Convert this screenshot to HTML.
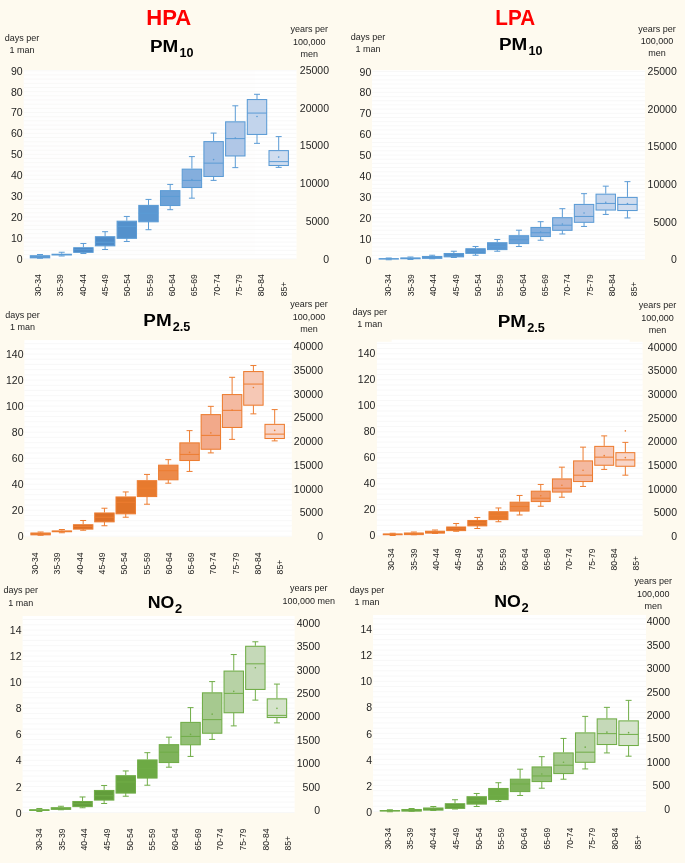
<!DOCTYPE html>
<html><head><meta charset="utf-8"><title>HPA / LPA</title>
<style>html,body{margin:0;padding:0;background:#FEFAEF;}body{width:685px;height:863px;overflow:hidden;}svg{display:block;will-change:transform;opacity:0.999;}text{font-family:"Liberation Sans",sans-serif;}</style>
</head><body>
<svg width="685" height="863" viewBox="0 0 685 863">
<rect x="0" y="0" width="685" height="863" fill="#FEFAEF"/>
<g>
<rect x="23.7" y="70" width="272.8" height="188.9" fill="#FFFFFF"/>
<path d="M23.7 258.75H296.5M23.7 254.57H296.5M23.7 250.39H296.5M23.7 246.22H296.5M23.7 242.04H296.5M23.7 237.86H296.5M23.7 233.68H296.5M23.7 229.51H296.5M23.7 225.33H296.5M23.7 221.15H296.5M23.7 216.97H296.5M23.7 212.79H296.5M23.7 208.62H296.5M23.7 204.44H296.5M23.7 200.26H296.5M23.7 196.08H296.5M23.7 191.91H296.5M23.7 187.73H296.5M23.7 183.55H296.5M23.7 179.37H296.5M23.7 175.19H296.5M23.7 171.02H296.5M23.7 166.84H296.5M23.7 162.66H296.5M23.7 158.48H296.5M23.7 154.31H296.5M23.7 150.13H296.5M23.7 145.95H296.5M23.7 141.77H296.5M23.7 137.59H296.5M23.7 133.42H296.5M23.7 129.24H296.5M23.7 125.06H296.5M23.7 120.88H296.5M23.7 116.71H296.5M23.7 112.53H296.5M23.7 108.35H296.5M23.7 104.17H296.5M23.7 99.99H296.5M23.7 95.82H296.5M23.7 91.64H296.5M23.7 87.46H296.5M23.7 83.28H296.5M23.7 79.11H296.5M23.7 74.93H296.5M23.7 70.75H296.5" stroke="#F7F7F7" stroke-width="0.9" fill="none"/>
<text x="22.6" y="262.51" font-size="10.5" text-anchor="end" fill="#1E1E1E">0</text>
<text x="22.6" y="241.63" font-size="10.5" text-anchor="end" fill="#1E1E1E">10</text>
<text x="22.6" y="220.76" font-size="10.5" text-anchor="end" fill="#1E1E1E">20</text>
<text x="22.6" y="199.88" font-size="10.5" text-anchor="end" fill="#1E1E1E">30</text>
<text x="22.6" y="179.01" font-size="10.5" text-anchor="end" fill="#1E1E1E">40</text>
<text x="22.6" y="158.13" font-size="10.5" text-anchor="end" fill="#1E1E1E">50</text>
<text x="22.6" y="137.26" font-size="10.5" text-anchor="end" fill="#1E1E1E">60</text>
<text x="22.6" y="116.38" font-size="10.5" text-anchor="end" fill="#1E1E1E">70</text>
<text x="22.6" y="95.51" font-size="10.5" text-anchor="end" fill="#1E1E1E">80</text>
<text x="22.6" y="74.63" font-size="10.5" text-anchor="end" fill="#1E1E1E">90</text>
<text x="329" y="262.51" font-size="10.5" text-anchor="end" fill="#1E1E1E">0</text>
<text x="329" y="224.8" font-size="10.5" text-anchor="end" fill="#1E1E1E">5000</text>
<text x="329" y="187.09" font-size="10.5" text-anchor="end" fill="#1E1E1E">10000</text>
<text x="329" y="149.38" font-size="10.5" text-anchor="end" fill="#1E1E1E">15000</text>
<text x="329" y="111.67" font-size="10.5" text-anchor="end" fill="#1E1E1E">20000</text>
<text x="329" y="73.96" font-size="10.5" text-anchor="end" fill="#1E1E1E">25000</text>
<path d="M40 254.49V255.24M40 257.75V258.25M37 254.49H43M37 258.25H43" stroke="#5B9BD5" stroke-width="1" fill="none"/>
<rect x="30.3" y="255.74" width="19.4" height="2.1" fill="#4A87C6" stroke="#5B9BD5" stroke-width="1.05"/>
<path d="M30.3 256.5H49.7" stroke="#5B9BD5" stroke-width="1" fill="none"/>
<path d="M61.7 252.24V253.74M61.7 255.49V255.99M58.7 252.24H64.7M58.7 255.99H64.7" stroke="#5B9BD5" stroke-width="1" fill="none"/>
<rect x="51.5" y="253.74" width="20.4" height="1.75" fill="#5B9BD5"/>
<path d="M52 254.49H71.4" stroke="#5B9BD5" stroke-width="1" fill="none"/>
<path d="M83.4 243.48V247.23M83.4 252.24V253.49M80.4 243.48H86.4M80.4 253.49H86.4" stroke="#5B9BD5" stroke-width="1" fill="none"/>
<rect x="73.7" y="247.73" width="19.4" height="4.61" fill="#4A87C6" stroke="#5B9BD5" stroke-width="1.05"/>
<path d="M73.7 249.74H93.1" stroke="#5B9BD5" stroke-width="1" fill="none"/>
<path d="M105.1 231.71V236.22M105.1 245.73V249.49M102.1 231.71H108.1M102.1 249.49H108.1" stroke="#5B9BD5" stroke-width="1" fill="none"/>
<rect x="95.4" y="236.72" width="19.4" height="9.11" fill="#4E8BC8" stroke="#5B9BD5" stroke-width="1.05"/>
<path d="M95.4 242.23H114.8" stroke="#5B9BD5" stroke-width="1" fill="none"/>
<path d="M126.8 216.45V220.7M126.8 238.22V241.48M123.8 216.45H129.8M123.8 241.48H129.8" stroke="#5B9BD5" stroke-width="1" fill="none"/>
<rect x="117.1" y="221.2" width="19.4" height="17.12" fill="#5491CC" stroke="#5B9BD5" stroke-width="1.05"/>
<path d="M117.1 226.46H136.5" stroke="#5B9BD5" stroke-width="1" fill="none"/>
<path d="M148.5 199.42V204.93M148.5 221.7V229.71M145.5 199.42H151.5M145.5 229.71H151.5" stroke="#5B9BD5" stroke-width="1" fill="none"/>
<rect x="138.8" y="205.43" width="19.4" height="16.37" fill="#5B97D1" stroke="#5B9BD5" stroke-width="1.05"/>
<path d="M138.8 213.19H158.2" stroke="#5B9BD5" stroke-width="1" fill="none"/>
<path d="M170.2 184.41V190.16M170.2 205.43V209.69M167.2 184.41H173.2M167.2 209.69H173.2" stroke="#5B9BD5" stroke-width="1" fill="none"/>
<rect x="160.5" y="190.66" width="19.4" height="14.87" fill="#6CA1D7" stroke="#5B9BD5" stroke-width="1.05"/>
<path d="M160.5 196.42H179.9" stroke="#5B9BD5" stroke-width="1" fill="none"/>
<path d="M191.9 156.62V168.64M191.9 187.41V198.17M188.9 156.62H194.9M188.9 198.17H194.9" stroke="#5B9BD5" stroke-width="1" fill="none"/>
<rect x="182.2" y="169.14" width="19.4" height="18.37" fill="#84AEDD" stroke="#5B9BD5" stroke-width="1.05"/>
<path d="M182.2 180.4H201.6" stroke="#5B9BD5" stroke-width="1" fill="none"/>
<circle cx="191.9" cy="179.65" r="0.8" fill="#5B9BD5"/>
<path d="M213.6 133.09V141.1M213.6 176.4V180.4M210.6 133.09H216.6M210.6 180.4H216.6" stroke="#5B9BD5" stroke-width="1" fill="none"/>
<rect x="203.9" y="141.6" width="19.4" height="34.89" fill="#9DBCE3" stroke="#5B9BD5" stroke-width="1.05"/>
<path d="M203.9 163.13H223.3" stroke="#5B9BD5" stroke-width="1" fill="none"/>
<circle cx="213.6" cy="159.62" r="0.8" fill="#5B9BD5"/>
<path d="M235.3 105.81V121.33M235.3 155.87V167.63M232.3 105.81H238.3M232.3 167.63H238.3" stroke="#5B9BD5" stroke-width="1" fill="none"/>
<rect x="225.6" y="121.83" width="19.4" height="34.14" fill="#B0C7E7" stroke="#5B9BD5" stroke-width="1.05"/>
<path d="M225.6 138.6H245" stroke="#5B9BD5" stroke-width="1" fill="none"/>
<circle cx="235.3" cy="138.1" r="0.8" fill="#5B9BD5"/>
<path d="M257 94.29V99.05M257 134.34V143.35M254 94.29H260M254 143.35H260" stroke="#5B9BD5" stroke-width="1" fill="none"/>
<rect x="247.3" y="99.55" width="19.4" height="34.89" fill="#C2D4EC" stroke="#5B9BD5" stroke-width="1.05"/>
<path d="M247.3 113.07H266.7" stroke="#5B9BD5" stroke-width="1" fill="none"/>
<circle cx="257" cy="116.57" r="0.8" fill="#5B9BD5"/>
<path d="M278.7 136.6V150.11M278.7 165.38V167.38M275.7 136.6H281.7M275.7 167.38H281.7" stroke="#5B9BD5" stroke-width="1" fill="none"/>
<rect x="269" y="150.61" width="19.4" height="14.87" fill="#D0DDEF" stroke="#5B9BD5" stroke-width="1.05"/>
<path d="M269 161.63H288.4" stroke="#5B9BD5" stroke-width="1" fill="none"/>
<circle cx="278.7" cy="157.12" r="0.8" fill="#5B9BD5"/>
<text transform="translate(40.88 296.2) rotate(-90)" font-size="8.6" fill="#1E1E1E">30-34</text>
<text transform="translate(63.23 296.2) rotate(-90)" font-size="8.6" fill="#1E1E1E">35-39</text>
<text transform="translate(85.58 296.2) rotate(-90)" font-size="8.6" fill="#1E1E1E">40-44</text>
<text transform="translate(107.93 296.2) rotate(-90)" font-size="8.6" fill="#1E1E1E">45-49</text>
<text transform="translate(130.28 296.2) rotate(-90)" font-size="8.6" fill="#1E1E1E">50-54</text>
<text transform="translate(152.63 296.2) rotate(-90)" font-size="8.6" fill="#1E1E1E">55-59</text>
<text transform="translate(174.98 296.2) rotate(-90)" font-size="8.6" fill="#1E1E1E">60-64</text>
<text transform="translate(197.33 296.2) rotate(-90)" font-size="8.6" fill="#1E1E1E">65-69</text>
<text transform="translate(219.68 296.2) rotate(-90)" font-size="8.6" fill="#1E1E1E">70-74</text>
<text transform="translate(242.03 296.2) rotate(-90)" font-size="8.6" fill="#1E1E1E">75-79</text>
<text transform="translate(264.38 296.2) rotate(-90)" font-size="8.6" fill="#1E1E1E">80-84</text>
<text transform="translate(286.73 296.2) rotate(-90)" font-size="8.6" fill="#1E1E1E">85+</text>
<text x="150" y="51.7" font-size="17.2" font-weight="bold" fill="#000" textLength="28.3" lengthAdjust="spacingAndGlyphs">PM</text>
<text x="179.5" y="56.6" font-size="12" font-weight="bold" fill="#000" textLength="14" lengthAdjust="spacingAndGlyphs">10</text>
<text x="146.2" y="25.4" font-size="22" font-weight="bold" fill="#FF0000" textLength="45" lengthAdjust="spacingAndGlyphs">HPA</text>
<text x="22" y="40.8" font-size="9.0" text-anchor="middle" fill="#1E1E1E">days per</text>
<text x="22" y="52.9" font-size="9.0" text-anchor="middle" fill="#1E1E1E">1 man</text>
<text x="309.3" y="32.3" font-size="9.0" text-anchor="middle" fill="#1E1E1E">years per</text>
<text x="309.3" y="44.6" font-size="9.0" text-anchor="middle" fill="#1E1E1E">100,000</text>
<text x="309.3" y="56.8" font-size="9.0" text-anchor="middle" fill="#1E1E1E">men</text>
</g>
<g>
<rect x="372.1" y="70.2" width="272.8" height="189.4" fill="#FFFFFF"/>
<path d="M372.1 259.5H644.9M372.1 255.32H644.9M372.1 251.14H644.9M372.1 246.97H644.9M372.1 242.79H644.9M372.1 238.61H644.9M372.1 234.43H644.9M372.1 230.26H644.9M372.1 226.08H644.9M372.1 221.9H644.9M372.1 217.72H644.9M372.1 213.54H644.9M372.1 209.37H644.9M372.1 205.19H644.9M372.1 201.01H644.9M372.1 196.83H644.9M372.1 192.66H644.9M372.1 188.48H644.9M372.1 184.3H644.9M372.1 180.12H644.9M372.1 175.94H644.9M372.1 171.77H644.9M372.1 167.59H644.9M372.1 163.41H644.9M372.1 159.23H644.9M372.1 155.06H644.9M372.1 150.88H644.9M372.1 146.7H644.9M372.1 142.52H644.9M372.1 138.34H644.9M372.1 134.17H644.9M372.1 129.99H644.9M372.1 125.81H644.9M372.1 121.63H644.9M372.1 117.46H644.9M372.1 113.28H644.9M372.1 109.1H644.9M372.1 104.92H644.9M372.1 100.74H644.9M372.1 96.57H644.9M372.1 92.39H644.9M372.1 88.21H644.9M372.1 84.03H644.9M372.1 79.86H644.9M372.1 75.68H644.9M372.1 71.5H644.9" stroke="#F7F7F7" stroke-width="0.9" fill="none"/>
<text x="371.3" y="264.06" font-size="10.5" text-anchor="end" fill="#1E1E1E">0</text>
<text x="371.3" y="243.11" font-size="10.5" text-anchor="end" fill="#1E1E1E">10</text>
<text x="371.3" y="222.16" font-size="10.5" text-anchor="end" fill="#1E1E1E">20</text>
<text x="371.3" y="201.21" font-size="10.5" text-anchor="end" fill="#1E1E1E">30</text>
<text x="371.3" y="180.26" font-size="10.5" text-anchor="end" fill="#1E1E1E">40</text>
<text x="371.3" y="159.31" font-size="10.5" text-anchor="end" fill="#1E1E1E">50</text>
<text x="371.3" y="138.36" font-size="10.5" text-anchor="end" fill="#1E1E1E">60</text>
<text x="371.3" y="117.41" font-size="10.5" text-anchor="end" fill="#1E1E1E">70</text>
<text x="371.3" y="96.46" font-size="10.5" text-anchor="end" fill="#1E1E1E">80</text>
<text x="371.3" y="75.51" font-size="10.5" text-anchor="end" fill="#1E1E1E">90</text>
<text x="676.8" y="263.26" font-size="10.5" text-anchor="end" fill="#1E1E1E">0</text>
<text x="676.8" y="225.66" font-size="10.5" text-anchor="end" fill="#1E1E1E">5000</text>
<text x="676.8" y="188.06" font-size="10.5" text-anchor="end" fill="#1E1E1E">10000</text>
<text x="676.8" y="150.46" font-size="10.5" text-anchor="end" fill="#1E1E1E">15000</text>
<text x="676.8" y="112.86" font-size="10.5" text-anchor="end" fill="#1E1E1E">20000</text>
<text x="676.8" y="75.26" font-size="10.5" text-anchor="end" fill="#1E1E1E">25000</text>
<path d="M388.75 258V258.25M388.75 259.5V259.75M385.75 258H391.75M385.75 259.75H391.75" stroke="#5B9BD5" stroke-width="1" fill="none"/>
<rect x="378.55" y="258.25" width="20.4" height="1.25" fill="#5B9BD5"/>
<path d="M379.05 258.75H398.45" stroke="#5B9BD5" stroke-width="1" fill="none"/>
<path d="M410.45 257V257.5M410.45 259.25V259.5M407.45 257H413.45M407.45 259.5H413.45" stroke="#5B9BD5" stroke-width="1" fill="none"/>
<rect x="400.25" y="257.5" width="20.4" height="1.75" fill="#5B9BD5"/>
<path d="M400.75 258.25H420.15" stroke="#5B9BD5" stroke-width="1" fill="none"/>
<path d="M432.15 255.24V255.99M432.15 258.25V258.75M429.15 255.24H435.15M429.15 258.75H435.15" stroke="#5B9BD5" stroke-width="1" fill="none"/>
<rect x="422.45" y="256.49" width="19.4" height="1.85" fill="#4A87C6" stroke="#5B9BD5" stroke-width="1.05"/>
<path d="M422.45 257.25H441.85" stroke="#5B9BD5" stroke-width="1" fill="none"/>
<path d="M453.85 251.24V252.99M453.85 256.75V257.5M450.85 251.24H456.85M450.85 257.5H456.85" stroke="#5B9BD5" stroke-width="1" fill="none"/>
<rect x="444.15" y="253.49" width="19.4" height="3.35" fill="#4E8BC8" stroke="#5B9BD5" stroke-width="1.05"/>
<path d="M444.15 254.99H463.55" stroke="#5B9BD5" stroke-width="1" fill="none"/>
<path d="M475.55 246.48V248.24M475.55 253.24V255.24M472.55 246.48H478.55M472.55 255.24H478.55" stroke="#5B9BD5" stroke-width="1" fill="none"/>
<rect x="465.85" y="248.74" width="19.4" height="4.61" fill="#5491CC" stroke="#5B9BD5" stroke-width="1.05"/>
<path d="M465.85 250.99H485.25" stroke="#5B9BD5" stroke-width="1" fill="none"/>
<path d="M497.25 239.47V242.23M497.25 249.49V251.24M494.25 239.47H500.25M494.25 251.24H500.25" stroke="#5B9BD5" stroke-width="1" fill="none"/>
<rect x="487.55" y="242.73" width="19.4" height="6.86" fill="#5B97D1" stroke="#5B9BD5" stroke-width="1.05"/>
<path d="M487.55 246.48H506.95" stroke="#5B9BD5" stroke-width="1" fill="none"/>
<path d="M518.95 230.21V235.22M518.95 243.48V246.48M515.95 230.21H521.95M515.95 246.48H521.95" stroke="#5B9BD5" stroke-width="1" fill="none"/>
<rect x="509.25" y="235.72" width="19.4" height="7.86" fill="#6CA1D7" stroke="#5B9BD5" stroke-width="1.05"/>
<path d="M509.25 239.72H528.65" stroke="#5B9BD5" stroke-width="1" fill="none"/>
<path d="M540.65 221.7V226.96M540.65 236.47V240.23M537.65 221.7H543.65M537.65 240.23H543.65" stroke="#5B9BD5" stroke-width="1" fill="none"/>
<rect x="530.95" y="227.46" width="19.4" height="9.11" fill="#84AEDD" stroke="#5B9BD5" stroke-width="1.05"/>
<path d="M530.95 232.72H550.35" stroke="#5B9BD5" stroke-width="1" fill="none"/>
<circle cx="540.65" cy="231.96" r="0.8" fill="#5B9BD5"/>
<path d="M562.35 208.69V217.2M562.35 230.21V233.97M559.35 208.69H565.35M559.35 233.97H565.35" stroke="#5B9BD5" stroke-width="1" fill="none"/>
<rect x="552.65" y="217.7" width="19.4" height="12.62" fill="#9DBCE3" stroke="#5B9BD5" stroke-width="1.05"/>
<path d="M552.65 225.21H572.05" stroke="#5B9BD5" stroke-width="1" fill="none"/>
<circle cx="562.35" cy="223.95" r="0.8" fill="#5B9BD5"/>
<path d="M584.05 193.67V203.93M584.05 222.2V226.46M581.05 193.67H587.05M581.05 226.46H587.05" stroke="#5B9BD5" stroke-width="1" fill="none"/>
<rect x="574.35" y="204.43" width="19.4" height="17.87" fill="#B0C7E7" stroke="#5B9BD5" stroke-width="1.05"/>
<path d="M574.35 216.45H593.75" stroke="#5B9BD5" stroke-width="1" fill="none"/>
<circle cx="584.05" cy="212.94" r="0.8" fill="#5B9BD5"/>
<path d="M605.75 186.16V193.67M605.75 209.94V214.44M602.75 186.16H608.75M602.75 214.44H608.75" stroke="#5B9BD5" stroke-width="1" fill="none"/>
<rect x="596.05" y="194.17" width="19.4" height="15.87" fill="#C2D4EC" stroke="#5B9BD5" stroke-width="1.05"/>
<path d="M596.05 203.43H615.45" stroke="#5B9BD5" stroke-width="1" fill="none"/>
<circle cx="605.75" cy="202.18" r="0.8" fill="#5B9BD5"/>
<path d="M627.45 181.65V196.92M627.45 210.44V217.95M624.45 181.65H630.45M624.45 217.95H630.45" stroke="#5B9BD5" stroke-width="1" fill="none"/>
<rect x="617.75" y="197.42" width="19.4" height="13.12" fill="#D0DDEF" stroke="#5B9BD5" stroke-width="1.05"/>
<path d="M617.75 204.43H637.15" stroke="#5B9BD5" stroke-width="1" fill="none"/>
<circle cx="627.45" cy="203.43" r="0.8" fill="#5B9BD5"/>
<text transform="translate(391.48 296.2) rotate(-90)" font-size="8.6" fill="#1E1E1E">30-34</text>
<text transform="translate(413.83 296.2) rotate(-90)" font-size="8.6" fill="#1E1E1E">35-39</text>
<text transform="translate(436.18 296.2) rotate(-90)" font-size="8.6" fill="#1E1E1E">40-44</text>
<text transform="translate(458.53 296.2) rotate(-90)" font-size="8.6" fill="#1E1E1E">45-49</text>
<text transform="translate(480.88 296.2) rotate(-90)" font-size="8.6" fill="#1E1E1E">50-54</text>
<text transform="translate(503.23 296.2) rotate(-90)" font-size="8.6" fill="#1E1E1E">55-59</text>
<text transform="translate(525.58 296.2) rotate(-90)" font-size="8.6" fill="#1E1E1E">60-64</text>
<text transform="translate(547.93 296.2) rotate(-90)" font-size="8.6" fill="#1E1E1E">65-69</text>
<text transform="translate(570.28 296.2) rotate(-90)" font-size="8.6" fill="#1E1E1E">70-74</text>
<text transform="translate(592.63 296.2) rotate(-90)" font-size="8.6" fill="#1E1E1E">75-79</text>
<text transform="translate(614.98 296.2) rotate(-90)" font-size="8.6" fill="#1E1E1E">80-84</text>
<text transform="translate(637.33 296.2) rotate(-90)" font-size="8.6" fill="#1E1E1E">85+</text>
<text x="498.9" y="49.6" font-size="17.2" font-weight="bold" fill="#000" textLength="28.3" lengthAdjust="spacingAndGlyphs">PM</text>
<text x="528.4" y="54.7" font-size="12" font-weight="bold" fill="#000" textLength="14" lengthAdjust="spacingAndGlyphs">10</text>
<text x="495.3" y="24.5" font-size="22" font-weight="bold" fill="#FF0000" textLength="39.8" lengthAdjust="spacingAndGlyphs">LPA</text>
<text x="368" y="40" font-size="9.0" text-anchor="middle" fill="#1E1E1E">days per</text>
<text x="368" y="52.3" font-size="9.0" text-anchor="middle" fill="#1E1E1E">1 man</text>
<text x="657" y="32.1" font-size="9.0" text-anchor="middle" fill="#1E1E1E">years per</text>
<text x="657" y="44.2" font-size="9.0" text-anchor="middle" fill="#1E1E1E">100,000</text>
<text x="657" y="56.4" font-size="9.0" text-anchor="middle" fill="#1E1E1E">men</text>
</g>
<g>
<rect x="24.4" y="340.1" width="267.4" height="196.5" fill="#FFFFFF"/>
<path d="M24.4 536.25H291.8M24.4 531.04H291.8M24.4 525.84H291.8M24.4 520.63H291.8M24.4 515.43H291.8M24.4 510.22H291.8M24.4 505.01H291.8M24.4 499.81H291.8M24.4 494.6H291.8M24.4 489.4H291.8M24.4 484.19H291.8M24.4 478.98H291.8M24.4 473.78H291.8M24.4 468.57H291.8M24.4 463.37H291.8M24.4 458.16H291.8M24.4 452.95H291.8M24.4 447.75H291.8M24.4 442.54H291.8M24.4 437.34H291.8M24.4 432.13H291.8M24.4 426.92H291.8M24.4 421.72H291.8M24.4 416.51H291.8M24.4 411.31H291.8M24.4 406.1H291.8M24.4 400.89H291.8M24.4 395.69H291.8M24.4 390.48H291.8M24.4 385.28H291.8M24.4 380.07H291.8M24.4 374.86H291.8M24.4 369.66H291.8M24.4 364.45H291.8M24.4 359.25H291.8M24.4 354.04H291.8M24.4 348.83H291.8M24.4 343.63H291.8" stroke="#F7F7F7" stroke-width="0.9" fill="none"/>
<text x="23.5" y="540.01" font-size="10.5" text-anchor="end" fill="#1E1E1E">0</text>
<text x="23.5" y="513.98" font-size="10.5" text-anchor="end" fill="#1E1E1E">20</text>
<text x="23.5" y="487.95" font-size="10.5" text-anchor="end" fill="#1E1E1E">40</text>
<text x="23.5" y="461.92" font-size="10.5" text-anchor="end" fill="#1E1E1E">60</text>
<text x="23.5" y="435.89" font-size="10.5" text-anchor="end" fill="#1E1E1E">80</text>
<text x="23.5" y="409.86" font-size="10.5" text-anchor="end" fill="#1E1E1E">100</text>
<text x="23.5" y="383.83" font-size="10.5" text-anchor="end" fill="#1E1E1E">120</text>
<text x="23.5" y="357.8" font-size="10.5" text-anchor="end" fill="#1E1E1E">140</text>
<text x="323" y="539.86" font-size="10.5" text-anchor="end" fill="#1E1E1E">0</text>
<text x="323" y="516.18" font-size="10.5" text-anchor="end" fill="#1E1E1E">5000</text>
<text x="323" y="492.5" font-size="10.5" text-anchor="end" fill="#1E1E1E">10000</text>
<text x="323" y="468.82" font-size="10.5" text-anchor="end" fill="#1E1E1E">15000</text>
<text x="323" y="445.14" font-size="10.5" text-anchor="end" fill="#1E1E1E">20000</text>
<text x="323" y="421.46" font-size="10.5" text-anchor="end" fill="#1E1E1E">25000</text>
<text x="323" y="397.78" font-size="10.5" text-anchor="end" fill="#1E1E1E">30000</text>
<text x="323" y="374.1" font-size="10.5" text-anchor="end" fill="#1E1E1E">35000</text>
<text x="323" y="350.42" font-size="10.5" text-anchor="end" fill="#1E1E1E">40000</text>
<path d="M40.6 532V532.5M40.6 534.76V535.26M37.6 532H43.6M37.6 535.26H43.6" stroke="#ED7D31" stroke-width="1" fill="none"/>
<rect x="30.9" y="533" width="19.4" height="1.85" fill="#DB6F28" stroke="#ED7D31" stroke-width="1.05"/>
<path d="M30.9 533.5H50.3" stroke="#ED7D31" stroke-width="1" fill="none"/>
<path d="M61.88 529.5V530.5M61.88 532.25V532.75M58.88 529.5H64.88M58.88 532.75H64.88" stroke="#ED7D31" stroke-width="1" fill="none"/>
<rect x="51.68" y="530.5" width="20.4" height="1.75" fill="#ED7D31"/>
<path d="M52.18 531.25H71.58" stroke="#ED7D31" stroke-width="1" fill="none"/>
<path d="M83.16 520.49V524.24M83.16 529V530.25M80.16 520.49H86.16M80.16 530.25H86.16" stroke="#ED7D31" stroke-width="1" fill="none"/>
<rect x="73.46" y="524.74" width="19.4" height="4.36" fill="#DB6F28" stroke="#ED7D31" stroke-width="1.05"/>
<path d="M73.46 526.5H92.86" stroke="#ED7D31" stroke-width="1" fill="none"/>
<path d="M104.44 508.22V512.48M104.44 521.74V525.74M101.44 508.22H107.44M101.44 525.74H107.44" stroke="#ED7D31" stroke-width="1" fill="none"/>
<rect x="94.74" y="512.98" width="19.4" height="8.86" fill="#DB6F28" stroke="#ED7D31" stroke-width="1.05"/>
<path d="M94.74 517.23H114.14" stroke="#ED7D31" stroke-width="1" fill="none"/>
<path d="M125.72 491.95V496.46M125.72 513.73V517.23M122.72 491.95H128.72M122.72 517.23H128.72" stroke="#ED7D31" stroke-width="1" fill="none"/>
<rect x="116.02" y="496.96" width="19.4" height="16.87" fill="#E07328" stroke="#ED7D31" stroke-width="1.05"/>
<path d="M116.02 502.22H135.42" stroke="#ED7D31" stroke-width="1" fill="none"/>
<path d="M147 474.43V480.19M147 496.46V504.22M144 474.43H150M144 504.22H150" stroke="#ED7D31" stroke-width="1" fill="none"/>
<rect x="137.3" y="480.69" width="19.4" height="15.87" fill="#E77A2E" stroke="#ED7D31" stroke-width="1.05"/>
<path d="M137.3 488.2H156.7" stroke="#ED7D31" stroke-width="1" fill="none"/>
<path d="M168.28 459.66V464.67M168.28 479.69V483.19M165.28 459.66H171.28M165.28 483.19H171.28" stroke="#ED7D31" stroke-width="1" fill="none"/>
<rect x="158.58" y="465.17" width="19.4" height="14.62" fill="#EC8A4A" stroke="#ED7D31" stroke-width="1.05"/>
<path d="M158.58 470.68H177.98" stroke="#ED7D31" stroke-width="1" fill="none"/>
<path d="M189.56 430.63V442.39M189.56 460.41V471.43M186.56 430.63H192.56M186.56 471.43H192.56" stroke="#ED7D31" stroke-width="1" fill="none"/>
<rect x="179.86" y="442.89" width="19.4" height="17.62" fill="#F09C6C" stroke="#ED7D31" stroke-width="1.05"/>
<path d="M179.86 454.41H199.26" stroke="#ED7D31" stroke-width="1" fill="none"/>
<circle cx="189.56" cy="452.4" r="0.8" fill="#ED7D31"/>
<path d="M210.84 406.35V414.11M210.84 449.15V452.9M207.84 406.35H213.84M207.84 452.9H213.84" stroke="#ED7D31" stroke-width="1" fill="none"/>
<rect x="201.14" y="414.61" width="19.4" height="34.64" fill="#F2A98A" stroke="#ED7D31" stroke-width="1.05"/>
<path d="M201.14 435.38H220.54" stroke="#ED7D31" stroke-width="1" fill="none"/>
<circle cx="210.84" cy="432.88" r="0.8" fill="#ED7D31"/>
<path d="M232.12 377.31V394.08M232.12 427.37V439.39M229.12 377.31H235.12M229.12 439.39H235.12" stroke="#ED7D31" stroke-width="1" fill="none"/>
<rect x="222.42" y="394.58" width="19.4" height="32.89" fill="#F4B9A0" stroke="#ED7D31" stroke-width="1.05"/>
<path d="M222.42 410.35H241.82" stroke="#ED7D31" stroke-width="1" fill="none"/>
<circle cx="232.12" cy="410.1" r="0.8" fill="#ED7D31"/>
<path d="M253.4 365.54V371.05M253.4 405.09V413.85M250.4 365.54H256.4M250.4 413.85H256.4" stroke="#ED7D31" stroke-width="1" fill="none"/>
<rect x="243.7" y="371.55" width="19.4" height="33.64" fill="#F6C8B5" stroke="#ED7D31" stroke-width="1.05"/>
<path d="M243.7 384.07H263.1" stroke="#ED7D31" stroke-width="1" fill="none"/>
<circle cx="253.4" cy="387.57" r="0.8" fill="#ED7D31"/>
<path d="M274.68 409.6V423.87M274.68 438.39V440.89M271.68 409.6H277.68M271.68 440.89H277.68" stroke="#ED7D31" stroke-width="1" fill="none"/>
<rect x="264.98" y="424.37" width="19.4" height="14.12" fill="#F8D5C8" stroke="#ED7D31" stroke-width="1.05"/>
<path d="M264.98 434.13H284.38" stroke="#ED7D31" stroke-width="1" fill="none"/>
<circle cx="274.68" cy="430.38" r="0.8" fill="#ED7D31"/>
<text transform="translate(38.08 574.4) rotate(-90)" font-size="8.6" fill="#1E1E1E">30-34</text>
<text transform="translate(60.38 574.4) rotate(-90)" font-size="8.6" fill="#1E1E1E">35-39</text>
<text transform="translate(82.68 574.4) rotate(-90)" font-size="8.6" fill="#1E1E1E">40-44</text>
<text transform="translate(104.98 574.4) rotate(-90)" font-size="8.6" fill="#1E1E1E">45-49</text>
<text transform="translate(127.28 574.4) rotate(-90)" font-size="8.6" fill="#1E1E1E">50-54</text>
<text transform="translate(149.58 574.4) rotate(-90)" font-size="8.6" fill="#1E1E1E">55-59</text>
<text transform="translate(171.88 574.4) rotate(-90)" font-size="8.6" fill="#1E1E1E">60-64</text>
<text transform="translate(194.18 574.4) rotate(-90)" font-size="8.6" fill="#1E1E1E">65-69</text>
<text transform="translate(216.48 574.4) rotate(-90)" font-size="8.6" fill="#1E1E1E">70-74</text>
<text transform="translate(238.78 574.4) rotate(-90)" font-size="8.6" fill="#1E1E1E">75-79</text>
<text transform="translate(261.08 574.4) rotate(-90)" font-size="8.6" fill="#1E1E1E">80-84</text>
<text transform="translate(283.38 574.4) rotate(-90)" font-size="8.6" fill="#1E1E1E">85+</text>
<text x="143.3" y="326.1" font-size="17.2" font-weight="bold" fill="#000" textLength="28.3" lengthAdjust="spacingAndGlyphs">PM</text>
<text x="172.8" y="331.4" font-size="12" font-weight="bold" fill="#000" textLength="17.6" lengthAdjust="spacingAndGlyphs">2.5</text>
<text x="22.6" y="318.4" font-size="9.0" text-anchor="middle" fill="#1E1E1E">days per</text>
<text x="22.6" y="330.2" font-size="9.0" text-anchor="middle" fill="#1E1E1E">1 man</text>
<text x="309.1" y="307.1" font-size="9.0" text-anchor="middle" fill="#1E1E1E">years per</text>
<text x="309.1" y="319.5" font-size="9.0" text-anchor="middle" fill="#1E1E1E">100,000</text>
<text x="309.1" y="331.6" font-size="9.0" text-anchor="middle" fill="#1E1E1E">men</text>
</g>
<g>
<rect x="376.9" y="341.8" width="265.7" height="194.3" fill="#FFFFFF"/>
<rect x="391.6" y="339.6" width="238" height="2.7" fill="#FFFFFF"/>
<path d="M376.9 535.75H642.6M376.9 530.55H642.6M376.9 525.35H642.6M376.9 520.15H642.6M376.9 514.95H642.6M376.9 509.75H642.6M376.9 504.55H642.6M376.9 499.35H642.6M376.9 494.15H642.6M376.9 488.95H642.6M376.9 483.75H642.6M376.9 478.55H642.6M376.9 473.35H642.6M376.9 468.15H642.6M376.9 462.95H642.6M376.9 457.75H642.6M376.9 452.55H642.6M376.9 447.35H642.6M376.9 442.15H642.6M376.9 436.95H642.6M376.9 431.75H642.6M376.9 426.55H642.6M376.9 421.35H642.6M376.9 416.15H642.6M376.9 410.95H642.6M376.9 405.75H642.6M376.9 400.55H642.6M376.9 395.35H642.6M376.9 390.15H642.6M376.9 384.95H642.6M376.9 379.75H642.6M376.9 374.55H642.6M376.9 369.35H642.6M376.9 364.15H642.6M376.9 358.95H642.6M376.9 353.75H642.6M376.9 348.55H642.6M376.9 343.35H642.6" stroke="#F7F7F7" stroke-width="0.9" fill="none"/>
<text x="375.4" y="539.06" font-size="10.5" text-anchor="end" fill="#1E1E1E">0</text>
<text x="375.4" y="513.06" font-size="10.5" text-anchor="end" fill="#1E1E1E">20</text>
<text x="375.4" y="487.06" font-size="10.5" text-anchor="end" fill="#1E1E1E">40</text>
<text x="375.4" y="461.06" font-size="10.5" text-anchor="end" fill="#1E1E1E">60</text>
<text x="375.4" y="435.06" font-size="10.5" text-anchor="end" fill="#1E1E1E">80</text>
<text x="375.4" y="409.06" font-size="10.5" text-anchor="end" fill="#1E1E1E">100</text>
<text x="375.4" y="383.06" font-size="10.5" text-anchor="end" fill="#1E1E1E">120</text>
<text x="375.4" y="357.06" font-size="10.5" text-anchor="end" fill="#1E1E1E">140</text>
<text x="677" y="539.96" font-size="10.5" text-anchor="end" fill="#1E1E1E">0</text>
<text x="677" y="516.3" font-size="10.5" text-anchor="end" fill="#1E1E1E">5000</text>
<text x="677" y="492.64" font-size="10.5" text-anchor="end" fill="#1E1E1E">10000</text>
<text x="677" y="468.98" font-size="10.5" text-anchor="end" fill="#1E1E1E">15000</text>
<text x="677" y="445.32" font-size="10.5" text-anchor="end" fill="#1E1E1E">20000</text>
<text x="677" y="421.66" font-size="10.5" text-anchor="end" fill="#1E1E1E">25000</text>
<text x="677" y="398" font-size="10.5" text-anchor="end" fill="#1E1E1E">30000</text>
<text x="677" y="374.34" font-size="10.5" text-anchor="end" fill="#1E1E1E">35000</text>
<text x="677" y="350.68" font-size="10.5" text-anchor="end" fill="#1E1E1E">40000</text>
<path d="M392.7 533.25V533.5M392.7 535.26V535.51M389.7 533.25H395.7M389.7 535.51H395.7" stroke="#ED7D31" stroke-width="1" fill="none"/>
<rect x="382.75" y="533.5" width="19.9" height="1.75" fill="#ED7D31"/>
<path d="M383.25 534.26H402.15" stroke="#ED7D31" stroke-width="1" fill="none"/>
<path d="M413.85 532V532.5M413.85 534.51V534.76M410.85 532H416.85M410.85 534.76H416.85" stroke="#ED7D31" stroke-width="1" fill="none"/>
<rect x="404.4" y="533" width="18.9" height="1.6" fill="#DB6F28" stroke="#ED7D31" stroke-width="1.05"/>
<path d="M404.4 533.5H423.3" stroke="#ED7D31" stroke-width="1" fill="none"/>
<path d="M435 530V530.75M435 533V533.5M432 530H438M432 533.5H438" stroke="#ED7D31" stroke-width="1" fill="none"/>
<rect x="425.55" y="531.25" width="18.9" height="1.85" fill="#DB6F28" stroke="#ED7D31" stroke-width="1.05"/>
<path d="M425.55 532H444.45" stroke="#ED7D31" stroke-width="1" fill="none"/>
<path d="M456.15 523.49V526.5M456.15 530.5V531.25M453.15 523.49H459.15M453.15 531.25H459.15" stroke="#ED7D31" stroke-width="1" fill="none"/>
<rect x="446.7" y="527" width="18.9" height="3.61" fill="#DB6F28" stroke="#ED7D31" stroke-width="1.05"/>
<path d="M446.7 528.75H465.6" stroke="#ED7D31" stroke-width="1" fill="none"/>
<path d="M477.3 517.48V519.99M477.3 525.74V528.5M474.3 517.48H480.3M474.3 528.5H480.3" stroke="#ED7D31" stroke-width="1" fill="none"/>
<rect x="467.85" y="520.49" width="18.9" height="5.36" fill="#E07328" stroke="#ED7D31" stroke-width="1.05"/>
<path d="M467.85 522.99H486.75" stroke="#ED7D31" stroke-width="1" fill="none"/>
<path d="M498.45 507.97V511.23M498.45 519.49V521.74M495.45 507.97H501.45M495.45 521.74H501.45" stroke="#ED7D31" stroke-width="1" fill="none"/>
<rect x="489" y="511.73" width="18.9" height="7.86" fill="#E77A2E" stroke="#ED7D31" stroke-width="1.05"/>
<path d="M489 515.73H507.9" stroke="#ED7D31" stroke-width="1" fill="none"/>
<path d="M519.6 495.46V501.71M519.6 510.98V514.98M516.6 495.46H522.6M516.6 514.98H522.6" stroke="#ED7D31" stroke-width="1" fill="none"/>
<rect x="510.15" y="502.21" width="18.9" height="8.86" fill="#EC8A4A" stroke="#ED7D31" stroke-width="1.05"/>
<path d="M510.15 506.47H529.05" stroke="#ED7D31" stroke-width="1" fill="none"/>
<path d="M540.75 484.44V490.7M540.75 501.46V506.22M537.75 484.44H543.75M537.75 506.22H543.75" stroke="#ED7D31" stroke-width="1" fill="none"/>
<rect x="531.3" y="491.2" width="18.9" height="10.36" fill="#F09C6C" stroke="#ED7D31" stroke-width="1.05"/>
<path d="M531.3 498.21H550.2" stroke="#ED7D31" stroke-width="1" fill="none"/>
<circle cx="540.75" cy="495.71" r="0.8" fill="#ED7D31"/>
<path d="M561.9 467.17V478.44M561.9 491.95V497.21M558.9 467.17H564.9M558.9 497.21H564.9" stroke="#ED7D31" stroke-width="1" fill="none"/>
<rect x="552.45" y="478.94" width="18.9" height="13.12" fill="#F2A98A" stroke="#ED7D31" stroke-width="1.05"/>
<path d="M552.45 488.2H571.35" stroke="#ED7D31" stroke-width="1" fill="none"/>
<circle cx="561.9" cy="485.19" r="0.8" fill="#ED7D31"/>
<path d="M583.05 447.15V460.41M583.05 481.44V486.45M580.05 447.15H586.05M580.05 486.45H586.05" stroke="#ED7D31" stroke-width="1" fill="none"/>
<rect x="573.6" y="460.91" width="18.9" height="20.63" fill="#F4B9A0" stroke="#ED7D31" stroke-width="1.05"/>
<path d="M573.6 475.18H592.5" stroke="#ED7D31" stroke-width="1" fill="none"/>
<circle cx="583.05" cy="470.18" r="0.8" fill="#ED7D31"/>
<path d="M604.2 435.88V445.89M604.2 465.17V469.42M601.2 435.88H607.2M601.2 469.42H607.2" stroke="#ED7D31" stroke-width="1" fill="none"/>
<rect x="594.75" y="446.39" width="18.9" height="18.87" fill="#F6C8B5" stroke="#ED7D31" stroke-width="1.05"/>
<path d="M594.75 457.16H613.65" stroke="#ED7D31" stroke-width="1" fill="none"/>
<circle cx="604.2" cy="455.66" r="0.8" fill="#ED7D31"/>
<path d="M625.35 442.39V452.15M625.35 466.17V475.18M622.35 442.39H628.35M622.35 475.18H628.35" stroke="#ED7D31" stroke-width="1" fill="none"/>
<rect x="615.9" y="452.65" width="18.9" height="13.62" fill="#F8D5C8" stroke="#ED7D31" stroke-width="1.05"/>
<path d="M615.9 459.91H634.8" stroke="#ED7D31" stroke-width="1" fill="none"/>
<circle cx="625.35" cy="457.66" r="0.8" fill="#ED7D31"/>
<circle cx="625.35" cy="430.88" r="0.8" fill="#ED7D31"/>
<text transform="translate(394.33 570.5) rotate(-90)" font-size="8.6" fill="#1E1E1E">30-34</text>
<text transform="translate(416.58 570.5) rotate(-90)" font-size="8.6" fill="#1E1E1E">35-39</text>
<text transform="translate(438.83 570.5) rotate(-90)" font-size="8.6" fill="#1E1E1E">40-44</text>
<text transform="translate(461.08 570.5) rotate(-90)" font-size="8.6" fill="#1E1E1E">45-49</text>
<text transform="translate(483.33 570.5) rotate(-90)" font-size="8.6" fill="#1E1E1E">50-54</text>
<text transform="translate(505.58 570.5) rotate(-90)" font-size="8.6" fill="#1E1E1E">55-59</text>
<text transform="translate(527.83 570.5) rotate(-90)" font-size="8.6" fill="#1E1E1E">60-64</text>
<text transform="translate(550.08 570.5) rotate(-90)" font-size="8.6" fill="#1E1E1E">65-69</text>
<text transform="translate(572.33 570.5) rotate(-90)" font-size="8.6" fill="#1E1E1E">70-74</text>
<text transform="translate(594.58 570.5) rotate(-90)" font-size="8.6" fill="#1E1E1E">75-79</text>
<text transform="translate(616.83 570.5) rotate(-90)" font-size="8.6" fill="#1E1E1E">80-84</text>
<text transform="translate(639.08 570.5) rotate(-90)" font-size="8.6" fill="#1E1E1E">85+</text>
<text x="497.7" y="327.2" font-size="17.2" font-weight="bold" fill="#000" textLength="28.3" lengthAdjust="spacingAndGlyphs">PM</text>
<text x="527.2" y="332.3" font-size="12" font-weight="bold" fill="#000" textLength="17.6" lengthAdjust="spacingAndGlyphs">2.5</text>
<text x="369.8" y="315.2" font-size="9.0" text-anchor="middle" fill="#1E1E1E">days per</text>
<text x="369.8" y="327.2" font-size="9.0" text-anchor="middle" fill="#1E1E1E">1 man</text>
<text x="657.6" y="308.2" font-size="9.0" text-anchor="middle" fill="#1E1E1E">years per</text>
<text x="657.6" y="320.7" font-size="9.0" text-anchor="middle" fill="#1E1E1E">100,000</text>
<text x="657.6" y="333" font-size="9.0" text-anchor="middle" fill="#1E1E1E">men</text>
</g>
<g>
<rect x="22.6" y="616" width="272" height="196.3" fill="#FFFFFF"/>
<path d="M22.6 812.5H294.6M22.6 807.29H294.6M22.6 802.07H294.6M22.6 796.86H294.6M22.6 791.64H294.6M22.6 786.43H294.6M22.6 781.22H294.6M22.6 776H294.6M22.6 770.79H294.6M22.6 765.57H294.6M22.6 760.36H294.6M22.6 755.15H294.6M22.6 749.93H294.6M22.6 744.72H294.6M22.6 739.5H294.6M22.6 734.29H294.6M22.6 729.08H294.6M22.6 723.86H294.6M22.6 718.65H294.6M22.6 713.43H294.6M22.6 708.22H294.6M22.6 703.01H294.6M22.6 697.79H294.6M22.6 692.58H294.6M22.6 687.36H294.6M22.6 682.15H294.6M22.6 676.94H294.6M22.6 671.72H294.6M22.6 666.51H294.6M22.6 661.29H294.6M22.6 656.08H294.6M22.6 650.87H294.6M22.6 645.65H294.6M22.6 640.44H294.6M22.6 635.22H294.6M22.6 630.01H294.6M22.6 624.8H294.6M22.6 619.58H294.6" stroke="#F7F7F7" stroke-width="0.9" fill="none"/>
<text x="21.5" y="816.76" font-size="10.5" text-anchor="end" fill="#1E1E1E">0</text>
<text x="21.5" y="790.62" font-size="10.5" text-anchor="end" fill="#1E1E1E">2</text>
<text x="21.5" y="764.48" font-size="10.5" text-anchor="end" fill="#1E1E1E">4</text>
<text x="21.5" y="738.34" font-size="10.5" text-anchor="end" fill="#1E1E1E">6</text>
<text x="21.5" y="712.2" font-size="10.5" text-anchor="end" fill="#1E1E1E">8</text>
<text x="21.5" y="686.06" font-size="10.5" text-anchor="end" fill="#1E1E1E">10</text>
<text x="21.5" y="659.92" font-size="10.5" text-anchor="end" fill="#1E1E1E">12</text>
<text x="21.5" y="633.78" font-size="10.5" text-anchor="end" fill="#1E1E1E">14</text>
<text x="320.1" y="814.16" font-size="10.5" text-anchor="end" fill="#1E1E1E">0</text>
<text x="320.1" y="790.74" font-size="10.5" text-anchor="end" fill="#1E1E1E">500</text>
<text x="320.1" y="767.32" font-size="10.5" text-anchor="end" fill="#1E1E1E">1000</text>
<text x="320.1" y="743.9" font-size="10.5" text-anchor="end" fill="#1E1E1E">1500</text>
<text x="320.1" y="720.48" font-size="10.5" text-anchor="end" fill="#1E1E1E">2000</text>
<text x="320.1" y="697.06" font-size="10.5" text-anchor="end" fill="#1E1E1E">2500</text>
<text x="320.1" y="673.64" font-size="10.5" text-anchor="end" fill="#1E1E1E">3000</text>
<text x="320.1" y="650.22" font-size="10.5" text-anchor="end" fill="#1E1E1E">3500</text>
<text x="320.1" y="626.8" font-size="10.5" text-anchor="end" fill="#1E1E1E">4000</text>
<path d="M39.35 808.5V809.25M39.35 811V811.5M36.35 808.5H42.35M36.35 811.5H42.35" stroke="#70AD47" stroke-width="1" fill="none"/>
<rect x="29.15" y="809.25" width="20.4" height="1.75" fill="#70AD47"/>
<path d="M29.65 810H49.05" stroke="#70AD47" stroke-width="1" fill="none"/>
<path d="M60.95 806.25V807.25M60.95 809.25V809.75M57.95 806.25H63.95M57.95 809.75H63.95" stroke="#70AD47" stroke-width="1" fill="none"/>
<rect x="51.25" y="807.75" width="19.4" height="1.6" fill="#629D3B" stroke="#70AD47" stroke-width="1.05"/>
<path d="M51.25 808.25H70.65" stroke="#70AD47" stroke-width="1" fill="none"/>
<path d="M82.55 796.98V800.99M82.55 806.5V807.75M79.55 796.98H85.55M79.55 807.75H85.55" stroke="#70AD47" stroke-width="1" fill="none"/>
<rect x="72.85" y="801.49" width="19.4" height="5.11" fill="#629D3B" stroke="#70AD47" stroke-width="1.05"/>
<path d="M72.85 803.74H92.25" stroke="#70AD47" stroke-width="1" fill="none"/>
<path d="M104.15 785.47V789.97M104.15 799.99V803.49M101.15 785.47H107.15M101.15 803.49H107.15" stroke="#70AD47" stroke-width="1" fill="none"/>
<rect x="94.45" y="790.47" width="19.4" height="9.61" fill="#629D3B" stroke="#70AD47" stroke-width="1.05"/>
<path d="M94.45 795.73H113.85" stroke="#70AD47" stroke-width="1" fill="none"/>
<path d="M125.75 770.95V775.21M125.75 792.98V796.23M122.75 770.95H128.75M122.75 796.23H128.75" stroke="#70AD47" stroke-width="1" fill="none"/>
<rect x="116.05" y="775.71" width="19.4" height="17.37" fill="#67A33F" stroke="#70AD47" stroke-width="1.05"/>
<path d="M116.05 781.96H135.45" stroke="#70AD47" stroke-width="1" fill="none"/>
<path d="M147.35 752.68V759.44M147.35 777.96V785.22M144.35 752.68H150.35M144.35 785.22H150.35" stroke="#70AD47" stroke-width="1" fill="none"/>
<rect x="137.65" y="759.94" width="19.4" height="18.12" fill="#6DAA44" stroke="#70AD47" stroke-width="1.05"/>
<path d="M137.65 768.45H157.05" stroke="#70AD47" stroke-width="1" fill="none"/>
<path d="M168.95 737.16V744.17M168.95 762.44V767.2M165.95 737.16H171.95M165.95 767.2H171.95" stroke="#70AD47" stroke-width="1" fill="none"/>
<rect x="159.25" y="744.67" width="19.4" height="17.87" fill="#7FB35B" stroke="#70AD47" stroke-width="1.05"/>
<path d="M159.25 752.18H178.65" stroke="#70AD47" stroke-width="1" fill="none"/>
<path d="M190.55 707.62V721.89M190.55 744.67V756.43M187.55 707.62H193.55M187.55 756.43H193.55" stroke="#70AD47" stroke-width="1" fill="none"/>
<rect x="180.85" y="722.39" width="19.4" height="22.38" fill="#94BF78" stroke="#70AD47" stroke-width="1.05"/>
<path d="M180.85 736.41H200.25" stroke="#70AD47" stroke-width="1" fill="none"/>
<circle cx="190.55" cy="734.41" r="0.8" fill="#70AD47"/>
<path d="M212.15 681.59V692.35M212.15 733.15V739.41M209.15 681.59H215.15M209.15 739.41H215.15" stroke="#70AD47" stroke-width="1" fill="none"/>
<rect x="202.45" y="692.85" width="19.4" height="40.4" fill="#A6C98F" stroke="#70AD47" stroke-width="1.05"/>
<path d="M202.45 719.64H221.85" stroke="#70AD47" stroke-width="1" fill="none"/>
<circle cx="212.15" cy="714.13" r="0.8" fill="#70AD47"/>
<path d="M233.75 654.56V670.58M233.75 712.63V725.89M230.75 654.56H236.75M230.75 725.89H236.75" stroke="#70AD47" stroke-width="1" fill="none"/>
<rect x="224.05" y="671.08" width="19.4" height="41.65" fill="#B7D2A5" stroke="#70AD47" stroke-width="1.05"/>
<path d="M224.05 693.35H243.45" stroke="#70AD47" stroke-width="1" fill="none"/>
<circle cx="233.75" cy="691.35" r="0.8" fill="#70AD47"/>
<path d="M255.35 641.79V645.79M255.35 689.35V700.11M252.35 641.79H258.35M252.35 700.11H258.35" stroke="#70AD47" stroke-width="1" fill="none"/>
<rect x="245.65" y="646.29" width="19.4" height="43.15" fill="#C5D9B8" stroke="#70AD47" stroke-width="1.05"/>
<path d="M245.65 663.82H265.05" stroke="#70AD47" stroke-width="1" fill="none"/>
<circle cx="255.35" cy="667.82" r="0.8" fill="#70AD47"/>
<path d="M276.95 684.09V698.36M276.95 717.38V722.89M273.95 684.09H279.95M273.95 722.89H279.95" stroke="#70AD47" stroke-width="1" fill="none"/>
<rect x="267.25" y="698.86" width="19.4" height="18.62" fill="#D5E3CB" stroke="#70AD47" stroke-width="1.05"/>
<path d="M267.25 715.38H286.65" stroke="#70AD47" stroke-width="1" fill="none"/>
<circle cx="276.95" cy="708.37" r="0.8" fill="#70AD47"/>
<text transform="translate(41.88 850.5) rotate(-90)" font-size="8.6" fill="#1E1E1E">30-34</text>
<text transform="translate(64.55 850.5) rotate(-90)" font-size="8.6" fill="#1E1E1E">35-39</text>
<text transform="translate(87.22 850.5) rotate(-90)" font-size="8.6" fill="#1E1E1E">40-44</text>
<text transform="translate(109.89 850.5) rotate(-90)" font-size="8.6" fill="#1E1E1E">45-49</text>
<text transform="translate(132.56 850.5) rotate(-90)" font-size="8.6" fill="#1E1E1E">50-54</text>
<text transform="translate(155.23 850.5) rotate(-90)" font-size="8.6" fill="#1E1E1E">55-59</text>
<text transform="translate(177.9 850.5) rotate(-90)" font-size="8.6" fill="#1E1E1E">60-64</text>
<text transform="translate(200.57 850.5) rotate(-90)" font-size="8.6" fill="#1E1E1E">65-69</text>
<text transform="translate(223.24 850.5) rotate(-90)" font-size="8.6" fill="#1E1E1E">70-74</text>
<text transform="translate(245.91 850.5) rotate(-90)" font-size="8.6" fill="#1E1E1E">75-79</text>
<text transform="translate(268.58 850.5) rotate(-90)" font-size="8.6" fill="#1E1E1E">80-84</text>
<text transform="translate(291.25 850.5) rotate(-90)" font-size="8.6" fill="#1E1E1E">85+</text>
<text x="147.7" y="607.9" font-size="17.2" font-weight="bold" fill="#000" textLength="26.6" lengthAdjust="spacingAndGlyphs">NO</text>
<text x="175.1" y="612.7" font-size="12" font-weight="bold" fill="#000" textLength="7.2" lengthAdjust="spacingAndGlyphs">2</text>
<text x="20.7" y="593.4" font-size="9.0" text-anchor="middle" fill="#1E1E1E">days per</text>
<text x="20.7" y="605.9" font-size="9.0" text-anchor="middle" fill="#1E1E1E">1 man</text>
<text x="308.8" y="591.2" font-size="9.0" text-anchor="middle" fill="#1E1E1E">years per</text>
<text x="308.8" y="603.8" font-size="9.0" text-anchor="middle" fill="#1E1E1E">100,000 men</text>
</g>
<g>
<rect x="373.1" y="615" width="272.9" height="196.6" fill="#FFFFFF"/>
<path d="M373.1 811.5H646M373.1 806.29H646M373.1 801.08H646M373.1 795.88H646M373.1 790.67H646M373.1 785.46H646M373.1 780.25H646M373.1 775.04H646M373.1 769.84H646M373.1 764.63H646M373.1 759.42H646M373.1 754.21H646M373.1 749H646M373.1 743.8H646M373.1 738.59H646M373.1 733.38H646M373.1 728.17H646M373.1 722.96H646M373.1 717.76H646M373.1 712.55H646M373.1 707.34H646M373.1 702.13H646M373.1 696.92H646M373.1 691.72H646M373.1 686.51H646M373.1 681.3H646M373.1 676.09H646M373.1 670.88H646M373.1 665.68H646M373.1 660.47H646M373.1 655.26H646M373.1 650.05H646M373.1 644.84H646M373.1 639.64H646M373.1 634.43H646M373.1 629.22H646M373.1 624.01H646M373.1 618.8H646" stroke="#F7F7F7" stroke-width="0.9" fill="none"/>
<text x="372.2" y="816.06" font-size="10.5" text-anchor="end" fill="#1E1E1E">0</text>
<text x="372.2" y="789.9" font-size="10.5" text-anchor="end" fill="#1E1E1E">2</text>
<text x="372.2" y="763.74" font-size="10.5" text-anchor="end" fill="#1E1E1E">4</text>
<text x="372.2" y="737.58" font-size="10.5" text-anchor="end" fill="#1E1E1E">6</text>
<text x="372.2" y="711.42" font-size="10.5" text-anchor="end" fill="#1E1E1E">8</text>
<text x="372.2" y="685.26" font-size="10.5" text-anchor="end" fill="#1E1E1E">10</text>
<text x="372.2" y="659.1" font-size="10.5" text-anchor="end" fill="#1E1E1E">12</text>
<text x="372.2" y="632.94" font-size="10.5" text-anchor="end" fill="#1E1E1E">14</text>
<text x="670.1" y="812.76" font-size="10.5" text-anchor="end" fill="#1E1E1E">0</text>
<text x="670.1" y="789.31" font-size="10.5" text-anchor="end" fill="#1E1E1E">500</text>
<text x="670.1" y="765.86" font-size="10.5" text-anchor="end" fill="#1E1E1E">1000</text>
<text x="670.1" y="742.41" font-size="10.5" text-anchor="end" fill="#1E1E1E">1500</text>
<text x="670.1" y="718.96" font-size="10.5" text-anchor="end" fill="#1E1E1E">2000</text>
<text x="670.1" y="695.51" font-size="10.5" text-anchor="end" fill="#1E1E1E">2500</text>
<text x="670.1" y="672.06" font-size="10.5" text-anchor="end" fill="#1E1E1E">3000</text>
<text x="670.1" y="648.61" font-size="10.5" text-anchor="end" fill="#1E1E1E">3500</text>
<text x="670.1" y="625.16" font-size="10.5" text-anchor="end" fill="#1E1E1E">4000</text>
<path d="M389.9 809.75V810M389.9 811.5V811.75M386.9 809.75H392.9M386.9 811.75H392.9" stroke="#70AD47" stroke-width="1" fill="none"/>
<rect x="379.7" y="810" width="20.4" height="1.5" fill="#70AD47"/>
<path d="M380.2 810.75H399.6" stroke="#70AD47" stroke-width="1" fill="none"/>
<path d="M411.6 808.5V809M411.6 811V811.25M408.6 808.5H414.6M408.6 811.25H414.6" stroke="#70AD47" stroke-width="1" fill="none"/>
<rect x="401.9" y="809.5" width="19.4" height="1.6" fill="#629D3B" stroke="#70AD47" stroke-width="1.05"/>
<path d="M401.9 810H421.3" stroke="#70AD47" stroke-width="1" fill="none"/>
<path d="M433.3 806.5V807.5M433.3 810V810.5M430.3 806.5H436.3M430.3 810.5H436.3" stroke="#70AD47" stroke-width="1" fill="none"/>
<rect x="423.6" y="808" width="19.4" height="2.1" fill="#629D3B" stroke="#70AD47" stroke-width="1.05"/>
<path d="M423.6 808.75H443" stroke="#70AD47" stroke-width="1" fill="none"/>
<path d="M455 799.74V803.24M455 808.25V809M452 799.74H458M452 809H458" stroke="#70AD47" stroke-width="1" fill="none"/>
<rect x="445.3" y="803.74" width="19.4" height="4.61" fill="#629D3B" stroke="#70AD47" stroke-width="1.05"/>
<path d="M445.3 805.99H464.7" stroke="#70AD47" stroke-width="1" fill="none"/>
<path d="M476.7 793.48V796.23M476.7 803.99V806.5M473.7 793.48H479.7M473.7 806.5H479.7" stroke="#70AD47" stroke-width="1" fill="none"/>
<rect x="467" y="796.73" width="19.4" height="7.36" fill="#67A33F" stroke="#70AD47" stroke-width="1.05"/>
<path d="M467 800.74H486.4" stroke="#70AD47" stroke-width="1" fill="none"/>
<path d="M498.4 782.72V787.97M498.4 799.49V801.49M495.4 782.72H501.4M495.4 801.49H501.4" stroke="#70AD47" stroke-width="1" fill="none"/>
<rect x="488.7" y="788.47" width="19.4" height="11.11" fill="#6DAA44" stroke="#70AD47" stroke-width="1.05"/>
<path d="M488.7 795.23H508.1" stroke="#70AD47" stroke-width="1" fill="none"/>
<path d="M520.1 769.2V778.71M520.1 791.48V795.48M517.1 769.2H523.1M517.1 795.48H523.1" stroke="#70AD47" stroke-width="1" fill="none"/>
<rect x="510.4" y="779.21" width="19.4" height="12.37" fill="#7FB35B" stroke="#70AD47" stroke-width="1.05"/>
<path d="M510.4 783.97H529.8" stroke="#70AD47" stroke-width="1" fill="none"/>
<path d="M541.8 756.68V766.45M541.8 781.46V788.22M538.8 756.68H544.8M538.8 788.22H544.8" stroke="#70AD47" stroke-width="1" fill="none"/>
<rect x="532.1" y="766.95" width="19.4" height="14.62" fill="#94BF78" stroke="#70AD47" stroke-width="1.05"/>
<path d="M532.1 775.96H551.5" stroke="#70AD47" stroke-width="1" fill="none"/>
<circle cx="541.8" cy="773.95" r="0.8" fill="#70AD47"/>
<path d="M563.5 738.41V752.43M563.5 773.45V779.21M560.5 738.41H566.5M560.5 779.21H566.5" stroke="#70AD47" stroke-width="1" fill="none"/>
<rect x="553.8" y="752.93" width="19.4" height="20.63" fill="#A6C98F" stroke="#70AD47" stroke-width="1.05"/>
<path d="M553.8 765.19H573.2" stroke="#70AD47" stroke-width="1" fill="none"/>
<circle cx="563.5" cy="762.19" r="0.8" fill="#70AD47"/>
<path d="M585.2 716.38V732.4M585.2 762.19V768.95M582.2 716.38H588.2M582.2 768.95H588.2" stroke="#70AD47" stroke-width="1" fill="none"/>
<rect x="575.5" y="732.9" width="19.4" height="29.39" fill="#B7D2A5" stroke="#70AD47" stroke-width="1.05"/>
<path d="M575.5 752.18H594.9" stroke="#70AD47" stroke-width="1" fill="none"/>
<circle cx="585.2" cy="747.17" r="0.8" fill="#70AD47"/>
<path d="M606.9 707.37V718.39M606.9 744.42V752.93M603.9 707.37H609.9M603.9 752.93H609.9" stroke="#70AD47" stroke-width="1" fill="none"/>
<rect x="597.2" y="718.89" width="19.4" height="25.63" fill="#C5D9B8" stroke="#70AD47" stroke-width="1.05"/>
<path d="M597.2 733.65H616.6" stroke="#70AD47" stroke-width="1" fill="none"/>
<circle cx="606.9" cy="732.15" r="0.8" fill="#70AD47"/>
<path d="M628.6 700.36V720.39M628.6 745.42V756.18M625.6 700.36H631.6M625.6 756.18H631.6" stroke="#70AD47" stroke-width="1" fill="none"/>
<rect x="618.9" y="720.89" width="19.4" height="24.63" fill="#D5E3CB" stroke="#70AD47" stroke-width="1.05"/>
<path d="M618.9 734.41H638.3" stroke="#70AD47" stroke-width="1" fill="none"/>
<circle cx="628.6" cy="732.65" r="0.8" fill="#70AD47"/>
<text transform="translate(390.58 849.6) rotate(-90)" font-size="8.6" fill="#1E1E1E">30-34</text>
<text transform="translate(413.33 849.6) rotate(-90)" font-size="8.6" fill="#1E1E1E">35-39</text>
<text transform="translate(436.08 849.6) rotate(-90)" font-size="8.6" fill="#1E1E1E">40-44</text>
<text transform="translate(458.83 849.6) rotate(-90)" font-size="8.6" fill="#1E1E1E">45-49</text>
<text transform="translate(481.58 849.6) rotate(-90)" font-size="8.6" fill="#1E1E1E">50-54</text>
<text transform="translate(504.33 849.6) rotate(-90)" font-size="8.6" fill="#1E1E1E">55-59</text>
<text transform="translate(527.08 849.6) rotate(-90)" font-size="8.6" fill="#1E1E1E">60-64</text>
<text transform="translate(549.83 849.6) rotate(-90)" font-size="8.6" fill="#1E1E1E">65-69</text>
<text transform="translate(572.58 849.6) rotate(-90)" font-size="8.6" fill="#1E1E1E">70-74</text>
<text transform="translate(595.33 849.6) rotate(-90)" font-size="8.6" fill="#1E1E1E">75-79</text>
<text transform="translate(618.08 849.6) rotate(-90)" font-size="8.6" fill="#1E1E1E">80-84</text>
<text transform="translate(640.83 849.6) rotate(-90)" font-size="8.6" fill="#1E1E1E">85+</text>
<text x="494.2" y="606.9" font-size="17.2" font-weight="bold" fill="#000" textLength="26.6" lengthAdjust="spacingAndGlyphs">NO</text>
<text x="521.6" y="611.8" font-size="12" font-weight="bold" fill="#000" textLength="7.2" lengthAdjust="spacingAndGlyphs">2</text>
<text x="366.9" y="592.7" font-size="9.0" text-anchor="middle" fill="#1E1E1E">days per</text>
<text x="366.9" y="605" font-size="9.0" text-anchor="middle" fill="#1E1E1E">1 man</text>
<text x="653.3" y="584.4" font-size="9.0" text-anchor="middle" fill="#1E1E1E">years per</text>
<text x="653.3" y="596.6" font-size="9.0" text-anchor="middle" fill="#1E1E1E">100,000</text>
<text x="653.3" y="608.9" font-size="9.0" text-anchor="middle" fill="#1E1E1E">men</text>
</g>
</svg>
</body></html>
